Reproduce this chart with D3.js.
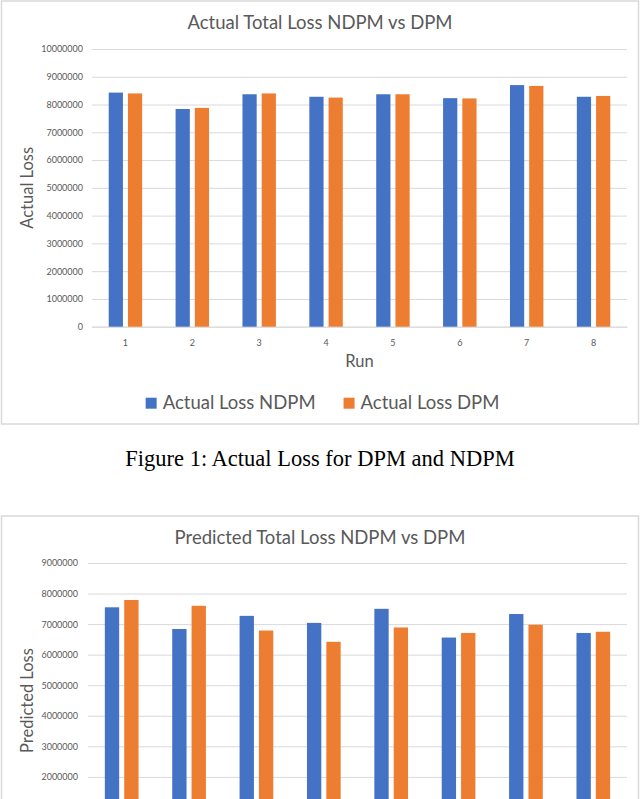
<!DOCTYPE html>
<html>
<head>
<meta charset="utf-8">
<script src="https://cdn.jsdelivr.net/npm/d3@7"></script>
<style>
  body { margin: 0; background: #fff; overflow: hidden; }
  svg { display: block; }
  .tick text { font-family: Lato, sans-serif; fill: #595959; }
</style>
</head>
<body>
<div class="figs"></div>
<script>
// data
var runs = ["1", "2", "3", "4", "5", "6", "7", "8"];
var seriesNames = ["NDPM", "DPM"];

var actualNDPM = [8430000, 7840000, 8370000, 8280000, 8370000, 8230000, 8700000, 8280000];
var actualDPM  = [8400000, 7880000, 8400000, 8250000, 8370000, 8220000, 8670000, 8310000];
var actualTicks = [0, 1000000, 2000000, 3000000, 4000000, 5000000, 6000000, 7000000, 8000000, 9000000, 10000000];

var predictedNDPM = [7550000, 6840000, 7270000, 7040000, 7500000, 6560000, 7330000, 6710000];
var predictedDPM  = [7790000, 7600000, 6790000, 6420000, 6890000, 6710000, 6980000, 6750000];
var predictedTicks = [0, 1000000, 2000000, 3000000, 4000000, 5000000, 6000000, 7000000, 8000000, 9000000];

var colors = d3.scaleOrdinal().domain(seriesNames).range(["#4472C4", "#ED7D31"]);

// the page is photographed at 640x799, the second figure runs off the bottom
var pageH = 799;

var svg = d3.select(".figs").append("svg")
    .attr("width", 640)
    .attr("height", pageH);

svg.append("rect").attr("width", 640).attr("height", pageH).attr("fill", "#fff");

function drawChart(top, cfg) {
  var g = svg.append("g").attr("transform", "translate(0," + top + ")");

  // frame
  g.append("rect")
    .attr("x", 1.5).attr("y", 1)
    .attr("width", 637).attr("height", 423)
    .attr("fill", "#fff")
    .attr("stroke", "#d9d9d9")
    .attr("stroke-width", 1.5);

  var y = d3.scaleLinear()
    .domain([0, d3.max(cfg.ticks)])
    .range([cfg.bottom, cfg.top]);

  var x = d3.scaleBand()
    .domain(runs)
    .range([cfg.left, 627]);

  var half = x.bandwidth() * 0.25;
  var xs = d3.scaleBand()
    .domain(seriesNames)
    .range([-half, half])
    .paddingInner(0.26);

  // title
  g.append("text")
    .attr("x", 320).attr("y", 29)
    .attr("text-anchor", "middle")
    .style("font-family", "Lato, sans-serif")
    .style("font-size", "18.5px")
    .style("fill", "#595959")
    .text(cfg.title);

  // grid + y labels
  var yAxis = g.append("g")
    .attr("transform", "translate(" + cfg.left + ",0)")
    .call(d3.axisLeft(y)
      .tickValues(cfg.ticks)
      .tickFormat(d3.format("d"))
      .tickSize(-(627 - cfg.left))
      .tickPadding(cfg.left - cfg.labelRight));
  yAxis.select(".domain").remove();
  yAxis.selectAll(".tick line").attr("stroke", "#d9d9d9");
  yAxis.selectAll(".tick text").style("font-size", "9px");

  // x labels
  var xAxis = g.append("g")
    .attr("transform", "translate(0," + cfg.bottom + ")")
    .call(d3.axisBottom(x).tickSize(0).tickPadding(13));
  xAxis.select(".domain").attr("stroke", "#d9d9d9");
  xAxis.selectAll(".tick text").style("font-size", "9px");

  // bars
  var rows = runs.map((r, i) => ({run: r, NDPM: cfg.a[i], DPM: cfg.b[i]}));
  g.append("g").selectAll("g")
    .data(rows)
    .enter().append("g")
      .attr("transform", d => "translate(" + (x(d.run) + x.bandwidth() / 2) + ",0)")
    .selectAll("rect")
    .data(d => seriesNames.map(k => ({key: k, value: d[k]})))
    .enter().append("rect")
      .attr("x", d => xs(d.key))
      .attr("width", xs.bandwidth())
      .attr("y", d => y(d.value))
      .attr("height", d => cfg.bottom - y(d.value))
      .attr("fill", d => colors(d.key));

  // axis titles
  g.append("text")
    .attr("transform", "translate(" + 33 + "," + ((cfg.top + cfg.bottom) / 2) + ") rotate(-90)")
    .attr("text-anchor", "middle")
    .style("font-family", "Lato, sans-serif")
    .style("font-size", "16.5px")
    .style("fill", "#595959")
    .text(cfg.yTitle);

  g.append("text")
    .attr("x", (cfg.left + 627) / 2).attr("y", cfg.bottom + 40)
    .attr("text-anchor", "middle")
    .style("font-family", "Lato, sans-serif")
    .style("font-size", "16.5px")
    .style("fill", "#595959")
    .text("Run");

  // legend
  var leg = g.append("g").attr("transform", "translate(0," + (cfg.bottom + 82) + ")");
  var items = leg.selectAll("g")
    .data(seriesNames)
    .enter().append("g");
  items.append("rect")
    .attr("y", -11).attr("width", 11).attr("height", 11)
    .attr("fill", d => colors(d));
  items.append("text")
    .attr("x", 17)
    .style("font-family", "Lato, sans-serif")
    .style("font-size", "18.5px")
    .style("fill", "#595959")
    .text(d => cfg.legendPrefix + " " + d);
  var widths = [];
  items.each(function() { widths.push(this.getBBox().width); });
  var gap = 28;
  var total = d3.sum(widths) + gap;
  var xpos = 322.5 - total / 2;
  items.attr("transform", (d, i) => {
    var t = "translate(" + xpos + ",0)";
    xpos += widths[i] + gap;
    return t;
  });
}

drawChart(0, {
  title: "Actual Total Loss NDPM vs DPM",
  yTitle: "Actual Loss",
  legendPrefix: "Actual Loss",
  a: actualNDPM, b: actualDPM, ticks: actualTicks,
  top: 49, bottom: 326.7, left: 92, labelRight: 83
});

drawChart(515, {
  title: "Predicted Total Loss NDPM vs DPM",
  yTitle: "Predicted Loss",
  legendPrefix: "Predicted Loss",
  a: predictedNDPM, b: predictedDPM, ticks: predictedTicks,
  top: 48, bottom: 323, left: 88, labelRight: 78
});

// caption between the two charts
svg.append("text")
  .attr("x", 320).attr("y", 466)
  .attr("text-anchor", "middle")
  .style("font-family", "'Liberation Serif', 'Times New Roman', serif")
  .style("font-size", "22.5px")
  .style("fill", "#000")
  .text("Figure 1: Actual Loss for DPM and NDPM");

// drop texts that fall below the photographed page, like the crop in the original
svg.selectAll("text").each(function() {
  var r = this.getBoundingClientRect();
  if (r.bottom > pageH) d3.select(this).remove();
});
</script>
</body>
</html>
